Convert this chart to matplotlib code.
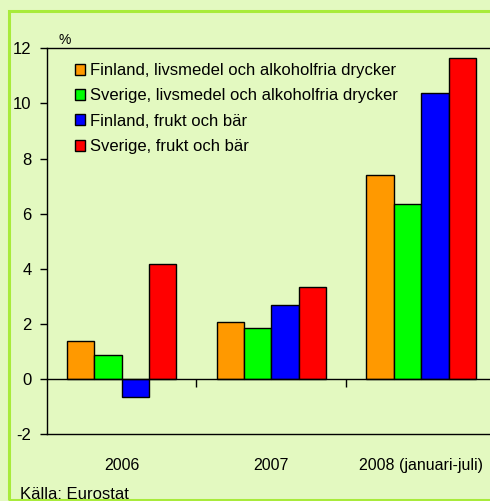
import matplotlib
matplotlib.use("Agg")
import matplotlib.pyplot as plt
import matplotlib.patches as mpatches
import numpy as np

plt.rcParams['font.family'] = ['Liberation Sans', 'DejaVu Sans']

categories = ["2006", "2007", "2008 (januari-juli)"]
series_names = [
    "Finland, livsmedel och alkoholfria drycker",
    "Sverige, livsmedel och alkoholfria drycker",
    "Finland, frukt och bär",
    "Sverige, frukt och bär",
]
fi_food = [1.36, 2.07, 7.40]
se_food = [0.86, 1.85, 6.36]
fi_fruit = [-0.67, 2.69, 10.36]
se_fruit = [4.16, 3.34, 11.63]
series_values = [fi_food, se_food, fi_fruit, se_fruit]
colors = ["#FF9900", "#00FF00", "#0000FF", "#FF0000"]
yticks = [-2, 0, 2, 4, 6, 8, 10, 12]

BG = "#E3F9C0"
BORDER = "#A8EB3A"

W, H = 490, 501
fig = plt.figure(figsize=(W / 100, H / 100), dpi=100, facecolor=BG)

# green frame
frame = mpatches.Rectangle((9 / W, 1 - 500 / H), 1.2, (500 - 11) / H,
                           transform=fig.transFigure, fill=False,
                           edgecolor=BORDER, lw=2.2, clip_on=False)
fig.patches.append(frame)

left, right, top, bottom = 46.7, 496, 48.3, 434
ax = fig.add_axes([left / W, 1 - bottom / H, (right - left) / W, (bottom - top) / H])
ax.set_facecolor(BG)

x = np.arange(len(categories))
bw = 0.183
offsets = (np.arange(4) - 1.5) * bw
for vals, off, c, name in zip(series_values, offsets, colors, series_names):
    ax.bar(x + off, vals, width=bw, color=c, edgecolor="black", linewidth=1.0,
           label=name, zorder=3)

ax.set_xlim(-0.5, 2.5)
ax.set_ylim(-2, 12)
ax.set_yticks(yticks)
ax.set_yticklabels([str(t) for t in yticks])
ax.tick_params(axis='y', direction='out', length=5, width=1, pad=6, labelsize=12)

# category axis crossing at zero
ax.spines['bottom'].set_position(('data', 0))
ax.spines['bottom'].set_zorder(4)
ax.set_xticks([0.5, 1.5])
ax.set_xticklabels([])
ax.tick_params(axis='x', direction='out', length=6, width=1)
for s in ax.spines.values():
    s.set_color("black")
    s.set_linewidth(1.0)

sec = ax.secondary_xaxis('bottom')
sec.set_xticks(x)
sec.set_xticklabels(categories)
sec.tick_params(length=0, pad=17, labelsize=11.5)
sec.spines['bottom'].set_linewidth(1.0)

# legend
handles = [mpatches.Patch(facecolor=c, edgecolor="black", linewidth=1.0) for c in colors]
leg = fig.legend(handles, series_names, loc='upper left',
                 bbox_to_anchor=(75 / W, 1 - 63 / H), frameon=False,
                 handlelength=0.62, handleheight=0.62, handletextpad=0.3,
                 labelspacing=0.62, fontsize=12, borderaxespad=0, borderpad=0)

fig.text(58 / W, 1 - 40 / H, "%", fontsize=10, ha='left', va='center')
fig.text(20 / W, 1 - 487 / H, "Källa: Eurostat", fontsize=12, ha='left', va='top')

fig.savefig("out.png", dpi=100, facecolor=BG)
